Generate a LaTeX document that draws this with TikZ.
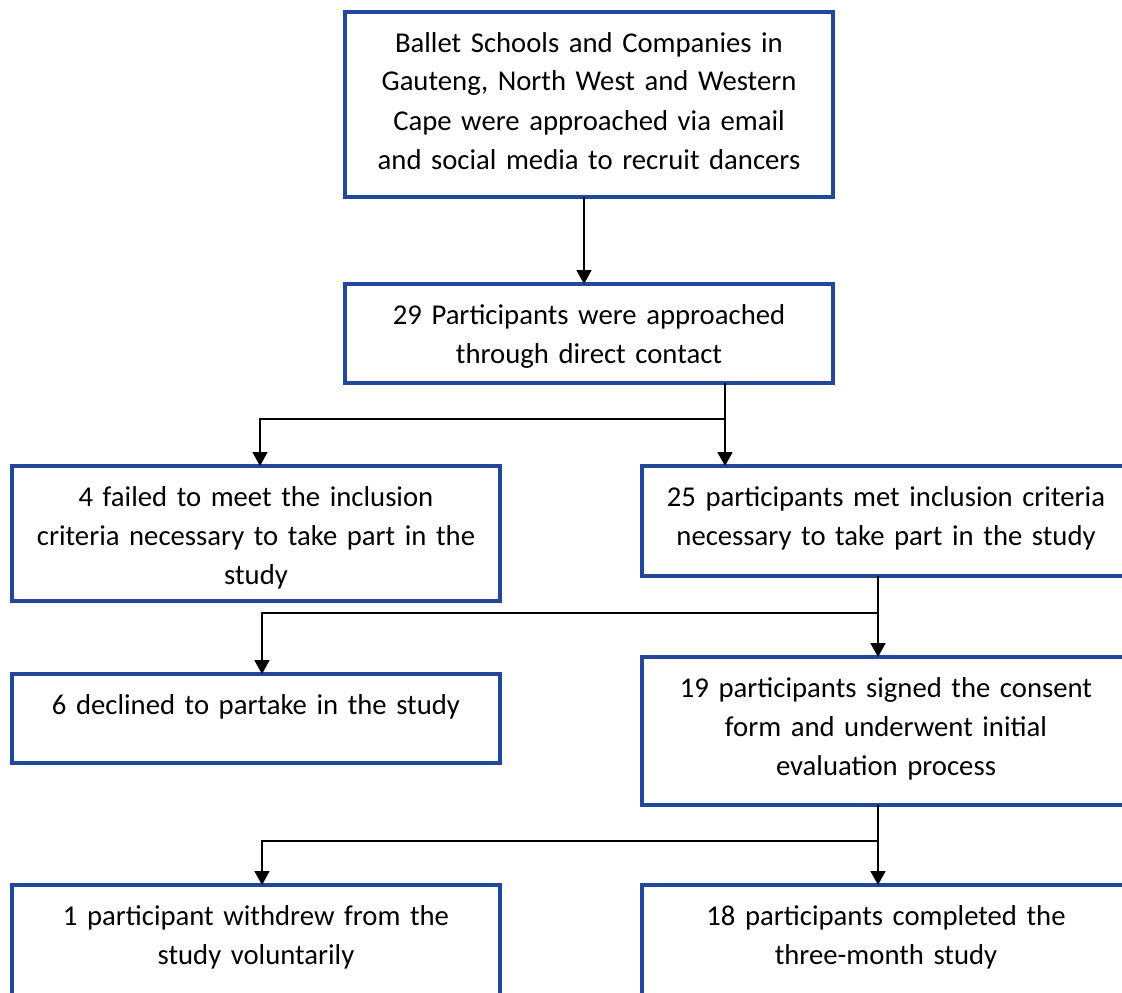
\documentclass[tikz,border=0pt]{standalone}
\usepackage{fontspec}
\setmainfont{Carlito}
\usepackage{xcolor}
\usepackage{tikz}
\usetikzlibrary{arrows.meta,positioning}

\definecolor{boxblue}{HTML}{23489A}

\begin{document}
\begin{tikzpicture}[x=1pt,y=-1pt,>={Triangle[width=15pt,length=14pt]},line width=1.8pt,
  flowbox/.style={draw=boxblue,line width=3.6pt,anchor=north,align=center,
    text width=468pt,inner xsep=10pt,inner ysep=0pt,outer sep=0pt,
    text height=40pt,font=\fontsize{28.7}{39}\selectfont}]

\useasboundingbox (0,0) rectangle (1122,993);

\node[flowbox, text depth=145pt] (B1) at (589,12)
  {Ballet Schools and Companies in\\Gauteng, North West and Western\\Cape were approached via email\\and social media to recruit dancers};
\node[flowbox, text depth=59pt, below=87pt of B1] (B2)
  {29 Participants were approached\\through direct contact};

\node[flowbox, text depth=95pt] (B3) at (256,466)
  {4 failed to meet the inclusion\\criteria necessary to take part in the\\study};
\node[flowbox, text depth=70pt] (B4) at (886,466)
  {25 participants met inclusion criteria\\necessary to take part in the study};

\node[flowbox, text depth=49pt] (B5) at (256,674)
  {6 declined to partake in the study};
\node[flowbox, text depth=108pt] (B6) at (886,657)
  {19 participants signed the consent\\form and underwent initial\\evaluation process};

\node[flowbox, text depth=100pt] (B7) at (256,885)
  {1 participant withdrew from the\\study voluntarily};
\node[flowbox, text depth=100pt] (B8) at (886,885)
  {18 participants completed the\\three-month study};

\coordinate (J1) at (725,419);
\coordinate (J2) at (878,613);
\coordinate (J3) at (878,841);

\path ([xshift=-5pt]B1.south) edge[->] ([xshift=-5pt]B2.north);

\path (J1 |- B2.south) edge[->] (J1 |- B4.north)
      (J2 |- B4.south) edge[->] (J2 |- B6.north)
      (J3 |- B6.south) edge[->] (J3 |- B8.north);

\draw[->] (J1) -| ([xshift=4pt]B3.north);
\draw[->] (J2) -| ([xshift=6pt]B5.north);
\draw[->] (J3) -| ([xshift=6pt]B7.north);

\end{tikzpicture}
\end{document}
